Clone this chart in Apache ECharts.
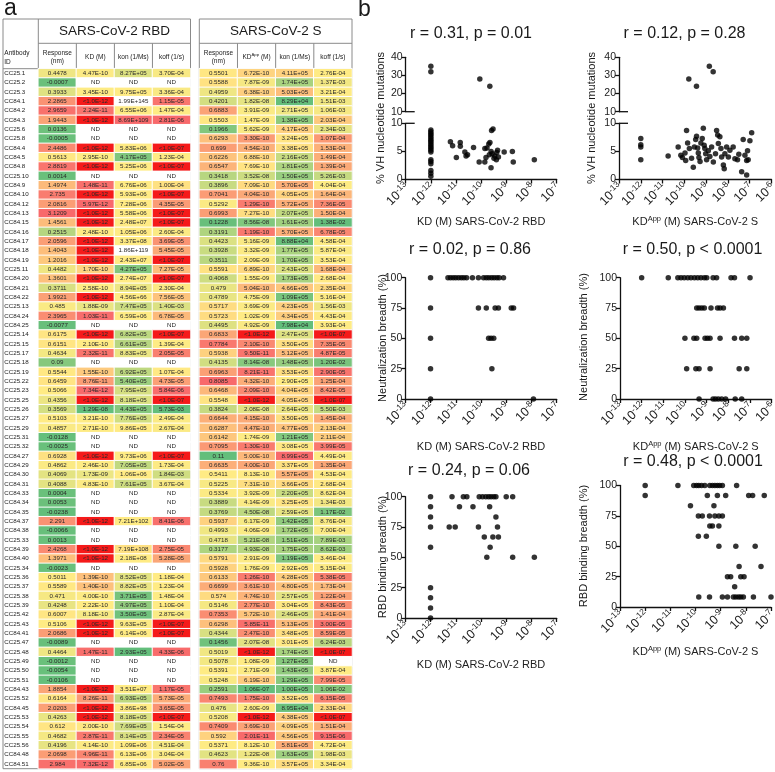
<!DOCTYPE html>
<html><head><meta charset="utf-8">
<script src="https://cdn.jsdelivr.net/npm/echarts@6/dist/echarts.min.js"></script>
<style>html,body{margin:0;padding:0;background:#fff}#c{width:775px;height:772px}</style>
</head><body><div id="c"></div>
<script>
// ---------------- DATA: table (panel a) ----------------
const antibodyIds = ["CC25.1","CC25.2","CC25.3","CC84.1","CC84.2","CC84.3","CC25.6","CC25.8","CC84.4","CC84.5",
"CC84.8","CC25.10","CC84.9","CC84.10","CC84.12","CC84.13","CC84.15","CC84.16","CC84.17","CC84.18",
"CC84.19","CC25.11","CC84.20","CC84.21","CC84.22","CC25.13","CC84.24","CC84.25","CC25.14","CC25.15",
"CC25.17","CC25.18","CC25.19","CC25.22","CC25.23","CC25.25","CC25.26","CC25.27","CC25.29","CC25.31",
"CC25.32","CC84.27","CC84.29","CC84.30","CC84.31","CC84.33","CC84.34","CC84.35","CC84.37","CC84.38",
"CC25.33","CC84.39","CC84.40","CC25.34","CC25.36","CC25.37","CC25.38","CC25.39","CC25.42","CC25.43",
"CC84.41","CC25.47","CC25.48","CC25.49","CC25.50","CC25.51","CC84.43","CC25.52","CC84.45","CC25.53",
"CC25.54","CC25.55","CC25.56","CC84.48","CC84.51"];

const rbdHeaders = ["Response\n(nm)","KD (M)","kon (1/Ms)","koff (1/s)"];
const sHeaders = ["Response\n(nm)","{n|KD}{s|App}{n| (M)}","kon (1/Ms)","koff (1/s)"];

const rbdResponse = ["0.4478","-0.0007","0.3933","2.2865","2.9659","1.9443","0.0136","-0.0005","2.4486","0.5613",
"2.8819","0.0014","1.4974","2.735","2.0816","3.1209","1.4561","0.2515","2.0596","1.4043",
"1.2016","0.4482","1.3601","0.3711","1.9921","0.485","2.3965","-0.0077","0.6175","0.6151",
"0.4634","0.09","0.5544","0.6459","0.5066","0.4356","0.3569","0.5103","0.4857","-0.0128",
"-0.0025","0.6928","0.4862","0.4069","0.4088","0.0004","0.0053","-0.0238","2.291","-0.0066",
"0.0013","2.4268","1.3971","-0.0023","0.5011","0.5589","0.471","0.4248","0.6007","0.5106",
"2.0686","-0.0089","0.4464","-0.0012","-0.0054","-0.0106","1.8854","0.6164","2.0203","0.4263",
"0.612","0.4682","0.4196","2.0698","2.984"];

const rbdKD = ["4.47E-10","ND","3.45E-10","<1.0E-12","2.24E-11","<1.0E-12","ND","ND","<1.0E-12","2.95E-10",
"<1.0E-12","ND","1.48E-11","<1.0E-12","5.97E-12","<1.0E-12","<1.0E-12","2.48E-10","<1.0E-12","<1.0E-12",
"<1.0E-12","1.70E-10","<1.0E-12","2.58E-10","<1.0E-12","1.88E-09","1.03E-11","ND","<1.0E-12","2.10E-10",
"2.32E-11","ND","1.55E-10","8.76E-11","7.34E-12","<1.0E-12","1.29E-08","3.21E-10","2.71E-10","ND",
"ND","<1.0E-12","2.46E-10","1.73E-09","4.83E-10","ND","ND","ND","<1.0E-12","ND",
"ND","<1.0E-12","<1.0E-12","ND","1.39E-10","1.40E-10","4.00E-10","2.22E-10","8.18E-10","<1.0E-12",
"<1.0E-12","ND","1.47E-11","ND","ND","ND","<1.0E-12","8.26E-11","<1.0E-12","<1.0E-12",
"2.00E-10","2.87E-11","4.14E-10","4.96E-11","7.32E-12"];

const rbdKon = ["8.27E+05","ND","9.75E+05","1.99E+145","6.55E+06","8.69E+109","ND","ND","5.83E+06","4.17E+05",
"5.25E+06","ND","6.76E+06","5.93E+06","7.28E+06","5.58E+06","2.48E+07","1.05E+06","3.37E+08","1.86E+119",
"2.43E+07","4.27E+05","2.74E+07","8.94E+05","4.56E+66","7.47E+05","6.59E+06","ND","6.82E+05","6.61E+05",
"8.83E+05","ND","6.92E+05","5.40E+05","7.95E+05","8.18E+05","4.43E+05","7.76E+05","9.86E+05","ND",
"ND","9.73E+06","7.05E+05","1.06E+06","7.61E+05","ND","ND","ND","7.21E+102","ND",
"ND","7.19E+108","2.18E+08","ND","8.52E+05","8.82E+05","3.71E+05","4.97E+05","3.50E+05","9.63E+05",
"6.14E+06","ND","2.93E+05","ND","ND","ND","3.51E+07","6.93E+05","3.86E+98","8.18E+05",
"7.69E+05","8.14E+05","1.09E+06","6.13E+06","6.85E+06"];

const rbdKoff = ["3.70E-04","ND","3.36E-04","1.15E-05","1.47E-04","2.81E-06","ND","ND","<1.0E-07","1.23E-04",
"<1.0E-07","ND","1.00E-04","<1.0E-07","4.35E-05","<1.0E-07","<1.0E-07","2.60E-04","3.69E-05","5.45E-05",
"<1.0E-07","7.27E-05","<1.0E-07","2.30E-04","7.56E-05","1.40E-03","6.78E-05","ND","<1.0E-07","1.39E-04",
"2.05E-05","ND","1.07E-04","4.73E-05","5.84E-06","<1.0E-07","5.73E-03","2.49E-04","2.67E-04","ND",
"ND","<1.0E-07","1.73E-04","1.84E-03","3.67E-04","ND","ND","ND","8.41E-06","ND",
"ND","2.75E-05","5.28E-05","ND","1.18E-04","1.23E-04","1.48E-04","1.10E-04","2.87E-04","<1.0E-07",
"<1.0E-07","ND","4.33E-06","ND","ND","ND","1.17E-05","5.73E-05","3.65E-05","<1.0E-07",
"1.54E-04","2.34E-05","4.51E-04","3.04E-04","5.02E-05"];

const sResponse = ["0.5501","0.5588","0.4959","0.4201","0.6883","0.5503","0.1966","0.6293","0.699","0.6226",
"0.6547","0.3418","0.3896","0.7041","0.5292","0.6993","0.1228","0.3191","0.4423","0.3928",
"0.3511","0.5591","0.4068","0.479","0.4789","0.5717","0.5723","0.4495","0.6833","0.7784",
"0.5938","0.4135","0.6963","0.8085","0.6468","0.5548","0.3824","0.6644","0.6287","0.6142",
"0.7095","0.11","0.6635","0.5411","0.5225","0.5334","0.3889","0.3769","0.5937","0.4993",
"0.4718","0.3177","0.5791","0.5928","0.6133","0.6699","0.574","0.5146","0.7353","0.6298",
"0.4344","0.1456","0.5019","0.5078","0.5391","0.5248","0.2591","0.7493","0.476","0.5208",
"0.7409","0.592","0.5371","0.4623","0.76"];

const sKD = ["6.72E-10","7.87E-09","6.38E-10","1.82E-08","3.91E-09","1.47E-09","5.62E-09","3.30E-10","4.54E-10","6.88E-10",
"7.69E-10","3.52E-08","7.09E-10","4.04E-10","1.29E-10","7.27E-10","8.56E-08","1.19E-10","5.16E-09","3.32E-09",
"2.09E-09","6.89E-10","1.55E-09","5.04E-10","4.75E-09","3.69E-09","1.02E-09","4.92E-09","<1.0E-12","2.10E-10",
"9.50E-11","8.14E-08","8.21E-11","4.32E-10","2.09E-10","<1.0E-12","2.08E-08","4.15E-10","4.47E-10","1.74E-09",
"1.30E-10","5.00E-10","4.00E-10","8.13E-10","7.31E-10","3.92E-09","4.14E-09","4.50E-08","6.17E-09","4.06E-09",
"5.21E-08","4.93E-08","2.91E-09","1.76E-09","1.26E-10","3.61E-10","4.74E-10","2.77E-10","5.72E-10","5.85E-11",
"2.47E-10","2.07E-08","<1.0E-12","1.08E-09","2.71E-09","6.19E-10","1.06E-07","1.75E-10","2.60E-09","<1.0E-12",
"3.69E-10","2.01E-11","8.12E-10","1.22E-08","9.36E-10"];

const sKon = ["4.11E+05","1.74E+05","5.03E+05","8.29E+04","2.71E+05","1.38E+05","4.17E+05","3.24E+05","3.38E+05","2.16E+05",
"1.81E+05","1.50E+05","5.70E+05","4.05E+05","5.72E+05","2.07E+05","1.61E+05","5.70E+05","8.88E+04","1.77E+05",
"1.70E+05","2.43E+05","1.73E+05","4.66E+05","1.09E+05","4.23E+05","4.34E+05","7.98E+04","2.47E+05","3.50E+05",
"5.12E+05","1.48E+05","3.53E+05","2.90E+05","4.04E+05","4.05E+05","2.64E+05","3.50E+05","4.77E+05","1.21E+05",
"3.08E+05","8.99E+05","3.37E+05","5.57E+05","3.66E+05","2.20E+05","3.25E+05","2.59E+05","1.42E+05","1.72E+05",
"1.51E+05","1.75E+05","1.19E+05","2.92E+05","4.28E+05","4.80E+05","2.57E+05","3.04E+05","2.46E+05","5.13E+05",
"3.48E+05","3.01E+05","1.74E+05","1.27E+05","1.43E+05","1.29E+05","1.00E+05","3.52E+05","8.95E+04","4.38E+05",
"4.09E+05","4.56E+05","5.81E+05","1.63E+05","3.57E+05"];

const sKoff = ["2.76E-04","1.37E-03","3.21E-04","1.51E-03","1.06E-03","2.03E-04","2.34E-03","1.07E-04","1.53E-04","1.49E-04",
"1.39E-04","5.26E-03","4.04E-04","1.64E-04","7.36E-05","1.50E-04","1.38E-02","6.78E-05","4.58E-04","5.87E-04",
"3.53E-04","1.68E-04","2.68E-04","2.35E-04","5.16E-04","1.56E-03","4.43E-04","3.93E-04","<1.0E-07","7.35E-05",
"4.87E-05","1.20E-02","2.90E-05","1.25E-04","8.42E-05","<1.0E-07","5.50E-03","1.45E-04","2.13E-04","2.11E-04",
"3.99E-05","4.49E-04","1.35E-04","4.53E-04","2.68E-04","8.62E-04","1.34E-03","1.17E-02","8.76E-04","7.00E-04",
"7.89E-03","8.62E-03","3.46E-04","5.15E-04","5.38E-05","1.73E-04","1.22E-04","8.43E-05","1.41E-04","3.00E-05",
"8.59E-05","6.24E-03","<1.0E-07","ND","3.87E-04","7.99E-05","1.06E-02","6.15E-05","2.33E-04","<1.0E-07",
"1.51E-04","9.15E-06","4.72E-04","1.98E-03","3.34E-04"];

// ---------------- DATA: scatter plots (panel b) ----------------
const vhRbdKD = [1e-12,1e-12,8.8e-11,2.2e-10,
 1e-12,1e-12,1e-12,1e-12,1e-12,1e-12,1e-12,1e-12,1e-12,1e-12,1e-12,1e-12,1e-12,1e-12,1e-12,1e-12,1e-12,1e-12,1e-12,1e-12,
 5.97e-12,7.3e-12,1.03e-11,1.47e-11,1.48e-11,2.24e-11,2.5e-11,2.87e-11,4.96e-11,8.3e-11,1.39e-10,
 1.40e-10,1.55e-10,1.70e-10,2.00e-10,2.10e-10,2.22e-10,2.46e-10,2.48e-10,2.58e-10,2.71e-10,2.95e-10,3.21e-10,3.45e-10,4.00e-10,4.14e-10,4.47e-10,4.83e-10,8.18e-10,1.73e-9,1.88e-9,1.29e-8];
const vhRbdPct = [35,32,28,24,
 8.8,8.5,8.2,7.9,7.6,7.3,7.0,6.7,6.4,6.1,5.8,5.5,5.2,4.9,3.5,3.2,2.8,1.6,1.1,0.6,
 6.7,6.0,3.9,6.6,5.9,4.9,4.2,4.4,5.7,3.1,3.1,
 5.5,3.9,5.6,6.3,4.4,6.6,2.1,5.0,8.7,4.6,9.0,3.8,4.2,3.5,4.8,5.2,4.0,4.9,5.0,3.1,3.5];

const vhSKD = [1.6e-10,3.6e-10,1.4e-9,2.1e-9, 1e-12,1e-12,1e-12,1e-12, 1.8e-11,
 5.2e-11,6.9e-11,8.1e-11,1.07e-10,1.15e-10,1.26e-10,1.41e-10,1.70e-10,2.14e-10,2.57e-10,
 2.88e-10,3.31e-10,3.63e-10,4.07e-10,4.37e-10,4.68e-10,5.25e-10,5.75e-10,6.61e-10,7.41e-10,
 8.13e-10,8.71e-10,9.55e-10,1.05e-9,1.26e-9,1.48e-9,1.78e-9,2.14e-9,2.69e-9,3.02e-9,
 3.39e-9,3.63e-9,4.27e-9,4.79e-9,5.13e-9,6.17e-9,6.76e-9,7.24e-9,8.71e-9,1.05e-8,
 1.23e-8,1.74e-8,2.09e-8,2.75e-8,3.16e-8,4.27e-8,5.01e-8,6.03e-8,7.24e-8,8.51e-8,
 1.02e-7,7.94e-8,1.23e-7,7.24e-8];
const vhSPct = [28,24,35,32, 7.3,6.2,5.8,3.5, 4.2,
 5.8,4.3,3.9,4.7,3.4,8.7,6.5,5.5,3.8,2.2,
 5.8,7.1,7.7,5.6,4.7,3.9,3.2,6.5,7.3,9.1,
 6.1,5.5,4.6,3.5,5.1,4.1,5.8,3.1,4.6,8.7,
 7.9,6.4,7.6,5.5,4.0,2.6,1.9,4.6,5.8,4.0,
 5.2,5.8,3.7,3.5,4.5,1.4,7.1,4.3,3.4,3.5,
 6.9,5.1,8.3,0.8];

const neutRbdKD = [1e-12,4.9e-12,6.2e-12,7.9e-12,1.0e-11,1.29e-11,1.66e-11,2.09e-11,2.69e-11,4.57e-11,7.9e-11,1.26e-10,1.62e-10,2.04e-10,2.63e-10,3.31e-10,4.27e-10,5.25e-10,7.8e-10,
 1e-12,7.9e-11,1.62e-10,3.63e-10,4.9e-10,1.58e-9,1.95e-9,
 1e-12,2.0e-10,2.5e-10,3.2e-10,
 1e-12,2.7e-10,
 1e-12,1.2e-8];
const neutRbdPct = [100,100,100,100,100,100,100,100,100,100,100,100,100,100,100,100,100,100,100,
 75,75,75,75,75,75,75,
 50,50,50,50,
 25,25,
 0,0];

const neutSKD = [1e-12,1.7e-11,4.7e-11,6.6e-11,9.3e-11,1.35e-10,1.9e-10,2.75e-10,3.9e-10,5.5e-10,7.9e-10,1.02e-9,2.0e-9,2.9e-9,1.35e-8,1.95e-8,1.02e-7,
 3.5e-10,4.5e-10,6.0e-10,7.9e-10,1.6e-9,3.2e-9,4.2e-9,6.0e-9,
 1.0e-10,2.6e-10,3.5e-10,8.5e-10,1.1e-9,1.45e-9,4.2e-9,1.95e-8,4.2e-8,7.2e-8,
 1.2e-10,3.2e-10,4.5e-10,1.45e-9,3.2e-8,7.2e-8,
 4.5e-10,2.0e-9,2.6e-9,3.5e-9,5.0e-9,7.6e-9,2.1e-8,4.2e-8];
const neutSPct = [100,100,100,100,100,100,100,100,100,100,100,100,100,100,100,100,100,
 75,75,75,75,75,75,75,75,
 50,50,50,50,50,50,50,50,50,50,
 25,25,25,25,25,25,
 0,0,0,0,0,0,0,0];

const bindRbdKD = [1e-12,7.1e-12,2.0e-11,2.75e-11,8.5e-11,1.15e-10,1.55e-10,2.0e-10,2.5e-10,3.2e-10,3.9e-10,1.0e-9,1.8e-9,
 1e-12,1.4e-11,4.8e-11,2.2e-10,
 1e-12,3.9e-10,
 1e-12,5.5e-12,9.5e-12,7.9e-11,4.5e-10,
 1.35e-10,2.95e-10,4.9e-10,
 1e-12,2.3e-10,
 1.7e-10,1.8e-9,1.3e-8,
 1e-12,1e-12,1e-12,1e-12];
const bindRbdPct = [100,100,100,100,100,100,100,100,100,100,100,100,100,
 91.7,91.7,91.7,91.7,
 83.3,83.3,
 75,75,75,75,75,
 66.7,66.7,66.7,
 58.3,58.3,
 50,50,50,
 25,16.7,8.3,0];

const bindSKD = [1.0e-12,2.0e-11,8.5e-11,1.1e-10,1.35e-10,1.74e-10,2.35e-10,3.7e-10,4.7e-10,5.9e-10,7.4e-10,9.1e-10,1.17e-9,4.3e-9,
 1e-12,2.95e-10,7.4e-10,1.58e-9,1.3e-8,1.86e-8,5.4e-8,
 6.3e-11,5.4e-10,
 1.3e-10,1.86e-10,3.6e-10,5.9e-10,8.5e-10,1.17e-9,
 3.7e-10,4.7e-10,8.5e-10,
 1.3e-10,2.7e-10,
 8.5e-10,4.0e-9,2.35e-8,
 5.4e-9,4.0e-8,
 1.86e-9,2.5e-9,6.3e-9,8.5e-9,
 3.6e-9,
 1.35e-10,3.6e-10,1.17e-9,1.86e-9,3.2e-9,4.0e-9,5.1e-9,6.3e-9,8.0e-9,2.0e-8,1.0e-7];
const bindSPct = [100,100,100,100,100,100,100,100,100,100,100,100,100,100,
 91.7,91.7,91.7,91.7,91.7,91.7,91.7,
 83.3,83.3,
 75,75,75,75,75,75,
 66.7,66.7,66.7,
 58.3,58.3,
 50,50,50,
 33.3,33.3,
 25,25,25,25,
 16.7,
 8.3,8.3,8.3,8.3,8.3,8.3,8.3,8.3,8.3,8.3,8.3];

const plotTitles = ["r = 0.31, p = 0.01","r = 0.12, p = 0.28","r = 0.02, p = 0.86","r = 0.50, p < 0.0001","r = 0.24, p = 0.06","r = 0.48, p < 0.0001"];

// ---------------- RENDERING ----------------
const FONT = "'Liberation Sans', Arial, Helvetica, sans-serif";
const AX = '#111';
const RED = [248,105,107], YEL = [255,235,132], GRN = [99,190,123];
const FLAG = '#F51A1A';
const OVERFLOW = 1e110; // larger figures are text entries in the sheet and carry no fill

function toNum(t){ if (t === 'ND' || t[0] === '<') return NaN; return parseFloat(t); }
function mix(a,b,t){ t = Math.max(0, Math.min(1, t)); return 'rgb(' + a.map((v,i)=>Math.round(v + (b[i]-v)*t)).join(',') + ')'; }
function scaleColors(texts, lowIsRed){
  const nums = texts.map(toNum);
  const valid = nums.filter(v => isFinite(v) && Math.abs(v) < OVERFLOW).sort((a,b)=>a-b);
  const n = valid.length, min = valid[0], max = valid[n-1];
  const pos = (n-1)/2, lo = Math.floor(pos), hi = Math.ceil(pos);
  const med = valid[lo] + (valid[hi]-valid[lo])*(pos-lo);
  const cLow = lowIsRed ? RED : GRN, cHigh = lowIsRed ? GRN : RED;
  return texts.map((t,i) => {
    if (t === 'ND') return '#ffffff';
    if (t[0] === '<') return FLAG;
    const v = nums[i];
    if (!(Math.abs(v) < OVERFLOW)) return '#ffffff';
    if (v <= med) return mix(cLow, YEL, med === min ? 1 : (v-min)/(med-min));
    return mix(YEL, cHigh, (v-med)/(max-med));
  });
}
function blockData(cols, lowRed){
  const out = [];
  cols.forEach((col, ci) => {
    const colors = scaleColors(col, lowRed[ci]);
    col.forEach((t, ri) => {
      const v = toNum(t);
      out.push({value:[ci, ri, isFinite(v) ? v : 0], txt:t, itemStyle:{color:colors[ri]}});
    });
  });
  return out;
}

// table layout
const T = {top:19, h1:43.3, h2:68.7, bot:768.7, idL:3, rbdL:38.3, rbdR:190.5, sL:199.3, sR:352};
const option = {animation:false, textStyle:{fontFamily:FONT}, grid:[], xAxis:[], yAxis:[], series:[], graphic:[]};

const hdrRich = {n:{fontSize:6.5, color:'#222', fontFamily:FONT, lineHeight:9}, s:{fontSize:4.3, color:'#222', fontFamily:FONT, verticalAlign:'top'}};
function tableBlock(gi, left, right, headers, cols, showIds){
  option.grid.push({left:left, top:T.h2, width:right-left, height:T.bot-T.h2});
  option.xAxis.push({gridIndex:gi, type:'category', position:'top', data:headers,
    axisLine:{show:false}, axisTick:{show:false}, splitLine:{show:false},
    axisLabel:{interval:0, fontSize:6.5, lineHeight:8.5, color:'#222', margin:11.7, verticalAlign:'middle', rich:hdrRich}});
  option.yAxis.push({gridIndex:gi, type:'category', inverse:true, data:antibodyIds,
    axisLine:{show:false}, axisTick:{show:false}, splitLine:{show:false},
    axisLabel:{show:showIds, interval:0, align:'left', margin:left-4.3, fontSize:6.2, color:'#222'}});
  option.series.push({type:'heatmap', xAxisIndex:gi, yAxisIndex:gi, data:blockData(cols,[false,true,false,true]),
    itemStyle:{borderColor:'#fff', borderWidth:1}, emphasis:{disabled:true},
    label:{show:true, formatter:p=>p.data.txt, fontSize:6.2, color:'#2a2a2a', fontFamily:FONT}});
}
tableBlock(0, T.rbdL, T.rbdR, rbdHeaders, [rbdResponse, rbdKD, rbdKon, rbdKoff], true);
tableBlock(1, T.sL, T.sR, sHeaders, [sResponse, sKD, sKon, sKoff], false);

// table frame
const LC = '#8a8a8a';
function gline(x1,y1,x2,y2,c,w){ option.graphic.push({type:'line', silent:true, shape:{x1,y1,x2,y2}, style:{stroke:c||LC, lineWidth:w||1}}); }
function gtext(text,x,y,size,opts){ option.graphic.push(Object.assign({type:'text', silent:true, x:x, y:y, style:Object.assign({text:text, fontSize:size, fontFamily:FONT, fill:'#1a1a1a', align:'center', verticalAlign:'middle'}, (opts&&opts.style)||{})}, (opts&&opts.el)||{})); }
option.graphic.push({type:'rect', silent:true, shape:{x:T.idL, y:T.top, width:T.rbdR-T.idL, height:T.bot-T.top}, style:{fill:'none', stroke:LC, lineWidth:1}});
option.graphic.push({type:'rect', silent:true, shape:{x:T.sL, y:T.top, width:T.sR-T.sL, height:T.bot-T.top}, style:{fill:'none', stroke:LC, lineWidth:1}});
gline(T.rbdL, T.top, T.rbdL, T.h2);
gline(T.rbdL, T.h1, T.rbdR, T.h1);
gline(T.idL, T.h2, T.rbdR, T.h2);
gline(T.sL, T.h1, T.sR, T.h1);
gline(T.sL, T.h2, T.sR, T.h2);
for (let k=1;k<4;k++){
  const xr = T.rbdL + k*(T.rbdR-T.rbdL)/4, xs = T.sL + k*(T.sR-T.sL)/4;
  gline(xr, T.h1, xr, T.h2); gline(xs, T.h1, xs, T.h2);
}
gtext('SARS-CoV-2 RBD', (T.rbdL+T.rbdR)/2, 31.5, 13.5);
gtext('SARS-CoV-2 S', (T.sL+T.sR)/2, 31.5, 13.5);
gtext('Antibody\nID', 4.3, 57.6, 6.5, {style:{align:'left', lineHeight:9}});
gtext('a', 4, 9, 23, {style:{align:'left'}});
gtext('b', 358, 10, 23, {style:{align:'left'}});

// scatter panels
const xLabelRich = {b:{fontSize:12.5, fill:'#222', color:'#222', fontFamily:FONT, lineHeight:15}, s:{fontSize:8.5, fill:'#222', color:'#222', fontFamily:FONT, verticalAlign:'top'}};
const nameRich = {n:{fontSize:11, color:'#222', fontFamily:FONT, lineHeight:14}, s:{fontSize:7.5, color:'#222', fontFamily:FONT, verticalAlign:'top'}};
const tickJobs = [];
function addGrid(left, width, top, bottom){ option.grid.push({left:left, top:top, width:width, height:bottom-top}); return option.grid.length-1; }
function xAx(gi, xmax, name, gap, show){
  return {gridIndex:gi, type:'value', min:-13, max:xmax, interval:1, show:show,
    axisLine:{onZero:false, lineStyle:{color:AX, width:1.3}},
    axisTick:{length:4, lineStyle:{color:AX, width:1.3}}, splitLine:{show:false},
    axisLabel:{show:false},
    name:name, nameLocation:'middle', nameGap:gap, nameTextStyle:{fontSize:11, color:'#222', fontFamily:FONT, rich:nameRich}};
}
function yAx(gi, min, max, interval){
  return {gridIndex:gi, type:'value', min:min, max:max, interval:interval,
    axisLine:{show:true, onZero:false, lineStyle:{color:AX, width:1.3}},
    axisTick:{show:true, length:4, lineStyle:{color:AX, width:1.3}}, splitLine:{show:false},
    axisLabel:{fontSize:10.5, color:'#222', margin:3}};
}
function dots(gi, pts){ option.series.push({type:'scatter', xAxisIndex:gi, yAxisIndex:gi, data:pts, symbol:'circle', symbolSize:5.5, itemStyle:{color:'#000'}, silent:true}); }
function pairs(kd, y){ return kd.map((k,i)=>[Math.log10(k), y[i]]); }

function brokenPlot(left, width, xmax, yUp, yUpB, yLoT, yLoB, kd, y, xname, gap){
  const gU = addGrid(left, width, yUp, yUpB);
  option.xAxis.push(xAx(gU, xmax, '', 0, false)); option.yAxis.push(yAx(gU, 10, 40, 10));
  const gL = addGrid(left, width, yLoT, yLoB);
  option.xAxis.push(xAx(gL, xmax, xname, gap, true)); option.yAxis.push(yAx(gL, 0, 10, 5));
  tickJobs.push({g:gL, xmax:xmax, ymin:0});
  const all = pairs(kd, y);
  dots(gU, all.filter(p=>p[1] > 10)); dots(gL, all.filter(p=>p[1] <= 10));
  gline(left, yUpB, left+9, yUpB, AX, 1.3); gline(left, yLoT, left+9, yLoT, AX, 1.3);
}
function plainPlot(left, width, xmax, top, bottom, kd, y, xname, gap){
  const g = addGrid(left, width, top, bottom);
  option.xAxis.push(xAx(g, xmax, xname, gap, true)); option.yAxis.push(yAx(g, 0, 100, 25));
  tickJobs.push({g:g, xmax:xmax, ymin:0});
  dots(g, pairs(kd, y));
}
const nameRBD = 'KD (M) SARS-CoV-2 RBD';
const nameS = '{n|KD}{s|App}{n| (M) SARS-CoV-2 S}';
brokenPlot(405.7, 151, -7, 57.3, 111.7, 123.3, 179.5, vhRbdKD, vhRbdPct, nameRBD, 36.5);
brokenPlot(619, 152.5, -6, 57.3, 111.7, 123.3, 179.5, vhSKD, vhSPct, nameS, 35.5);
plainPlot(405.3, 151.4, -7, 277.7, 399, neutRbdKD, neutRbdPct, nameRBD, 42);
plainPlot(620, 151.5, -6, 277.7, 399, neutSKD, neutSPct, nameS, 41);
plainPlot(405.3, 151.4, -7, 496.7, 618, bindRbdKD, bindRbdPct, nameRBD, 41.5);
plainPlot(620, 151, -7, 485.5, 607, bindSKD, bindSPct, nameS, 38);

// panel titles and y-axis names
const titlePos = [[471,33.3],[684.5,33.3],[470,250],[692.5,250],[469,471],[693,461.7]];
plotTitles.forEach((t,i)=>gtext(t, titlePos[i][0], titlePos[i][1], 16));
const yNames = [['% VH nucleotide mutations',381,118],['% VH nucleotide mutations',592,118],
  ['Neutralization breadth (%)',383,338],['Neutralization breadth (%)',584,337],
  ['RBD binding breadth (%)',383,557],['RBD binding breadth (%)',584,546]];
yNames.forEach(n=>gtext(n[0], n[1], n[2], 11, {el:{rotation:Math.PI/2}}));

const chart = echarts.init(document.getElementById('c'), null, {renderer:'canvas'});
chart.setOption(option);
// rotated power-of-ten tick labels, placed at the ticks through the axes' own scale
tickJobs.forEach(j => {
  for (let v = -13; v <= j.xmax; v++) {
    const p = chart.convertToPixel({gridIndex:j.g}, [v, j.ymin]);
    option.graphic.push({type:'text', silent:true, x:p[0]+1.5, y:p[1]+5.5, rotation:Math.PI/4,
      style:{text:'{b|10}{s|' + v + '}', rich:xLabelRich, fontFamily:FONT, fill:'#222', align:'right', verticalAlign:'middle'}});
  }
});
chart.setOption(option);
</script></body></html>
